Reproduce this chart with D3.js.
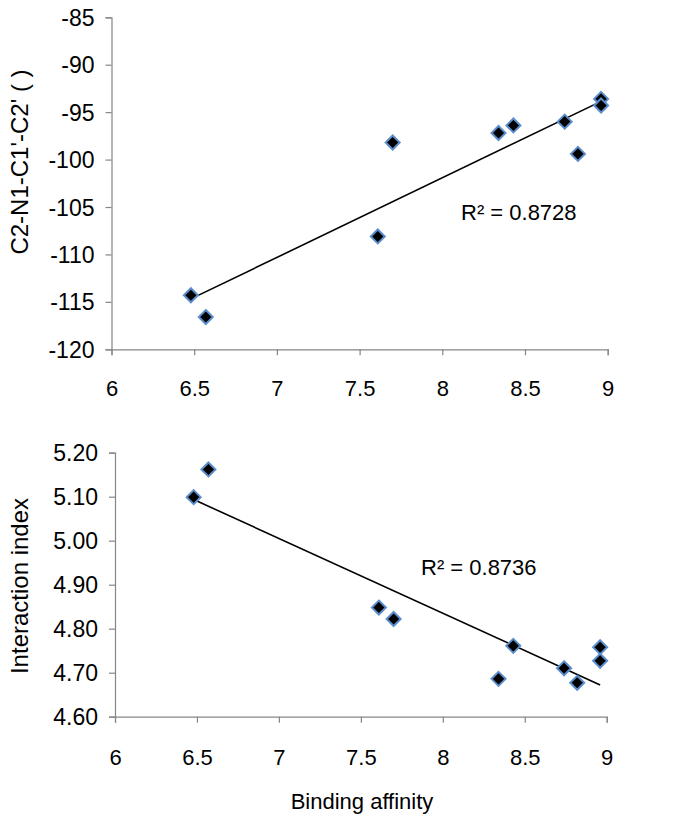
<!DOCTYPE html>
<html>
<head>
<meta charset="utf-8">
<script src="https://cdn.jsdelivr.net/npm/d3@7"></script>
<style>
  html, body { margin: 0; padding: 0; background: #fff; }
  svg { display: block; font-family: "Liberation Sans", Arial, Helvetica, sans-serif; }
</style>
</head>
<body>
<svg id="chart" width="697" height="824"></svg>
<script>
// Shared x values (binding affinity)
const affinity = [6.48, 6.57, 7.61, 7.70, 8.34, 8.43, 8.74, 8.82, 8.96, 8.96];
// Top panel: torsion angle C2-N1-C1'-C2'
const torsion = [-114.3, -116.6, -108.1, -98.2, -97.2, -96.4, -96.0, -99.4, -93.6, -94.3];
// Bottom panel: interaction index
const interaction = [5.099, 5.162, 4.848, 4.822, 4.686, 4.761, 4.710, 4.677, 4.758, 4.727];

const xTicks = [6, 6.5, 7, 7.5, 8, 8.5, 9];
const yTicksTop = [-120, -115, -110, -105, -100, -95, -90, -85];
const yTicksBottom = [4.60, 4.70, 4.80, 4.90, 5.00, 5.10, 5.20];

const r2Top = "R² = 0.8728";
const r2Bottom = "R² = 0.8736";
const yTitleTop = "C2-N1-C1'-C2' ( )";
const yTitleBottom = "Interaction index";
const xTitle = "Binding affinity";

const svg = d3.select("#chart");
svg.append("rect").attr("width", 697).attr("height", 824).attr("fill", "#fff");

function linreg(xs, ys) {
  const n = xs.length;
  const mx = d3.mean(xs), my = d3.mean(ys);
  let sxy = 0, sxx = 0;
  for (let i = 0; i < n; i++) { sxy += (xs[i]-mx)*(ys[i]-my); sxx += (xs[i]-mx)*(xs[i]-mx); }
  const b = sxy / sxx;
  return { a: my - b*mx, b };
}

function panel(opts) {
  const { ys, yDomain, yTicks, yFmt, xRange, yRange, title, titleY, r2, r2X, r2Y, xLabelDy } = opts;
  const x = d3.scaleLinear().domain([6, 9]).range(xRange);
  const y = d3.scaleLinear().domain(yDomain).range(yRange);
  const g = svg.append("g");

  const xAxis = g.append("g")
    .attr("transform", `translate(0,${yRange[0]})`)
    .call(d3.axisBottom(x).tickValues(xTicks).tickFormat(d => String(d)).tickSize(6).tickSizeOuter(6).tickPadding(0));
  const yAxis = g.append("g")
    .attr("transform", `translate(${xRange[0]},0)`)
    .call(d3.axisLeft(y).tickValues(yTicks).tickFormat(yFmt).tickSize(6).tickSizeOuter(6).tickPadding(11));

  [xAxis, yAxis].forEach(ax => {
    ax.select(".domain").attr("stroke", "#868686").attr("stroke-width", 1.2);
    ax.selectAll(".tick line").attr("stroke", "#868686").attr("stroke-width", 1.2);
    ax.selectAll("text").attr("fill", "#000").attr("font-family", "Liberation Sans, Arial, sans-serif");
  });
  xAxis.selectAll("text").attr("font-size", 22).attr("dy", null).attr("y", xLabelDy);
  yAxis.selectAll("text").attr("font-size", 23).attr("dy", "0.35em");

  // trendline (least squares over the plotted points)
  const fit = linreg(affinity, ys);
  const x0 = d3.min(affinity), x1 = d3.max(affinity);
  g.append("line")
    .attr("x1", x(x0)).attr("y1", y(fit.a + fit.b*x0))
    .attr("x2", x(x1)).attr("y2", y(fit.a + fit.b*x1))
    .attr("stroke", "#000").attr("stroke-width", 1.6);

  // points
  const diamond = "M0,-7L7,0L0,7L-7,0Z";
  g.selectAll("path.pt").data(affinity.map((a, i) => [a, ys[i]])).join("path")
    .attr("class", "pt")
    .attr("d", diamond)
    .attr("transform", d => `translate(${x(d[0])},${y(d[1])})`)
    .attr("fill", "#000").attr("stroke", "#5b8dcc").attr("stroke-width", 2);

  // R² label
  g.append("text").attr("x", r2X).attr("y", r2Y)
    .attr("font-size", 22).attr("fill", "#000").text(r2);

  // y title
  g.append("text")
    .attr("transform", `translate(28,${titleY}) rotate(-90)`)
    .attr("text-anchor", "middle").attr("font-size", 24).attr("fill", "#000")
    .style("white-space", "pre")
    .text(title);
}

panel({
  ys: torsion, yDomain: [-120, -85], yTicks: yTicksTop, yFmt: d => String(d),
  xRange: [111.5, 607.7], yRange: [349.3, 17.3],
  title: yTitleTop, titleY: 162, r2: r2Top, r2X: 461, r2Y: 220, xLabelDy: 46.5
});

panel({
  ys: interaction, yDomain: [4.6, 5.2], yTicks: yTicksBottom, yFmt: d3.format(".2f"),
  xRange: [115, 606.7], yRange: [716.7, 452.7],
  title: yTitleBottom, titleY: 586, r2: r2Bottom, r2X: 421, r2Y: 575, xLabelDy: 48.5
});

svg.append("text").attr("x", 362).attr("y", 809).attr("text-anchor", "middle")
  .attr("font-size", 22).attr("fill", "#000").text(xTitle);
</script>
</body>
</html>
